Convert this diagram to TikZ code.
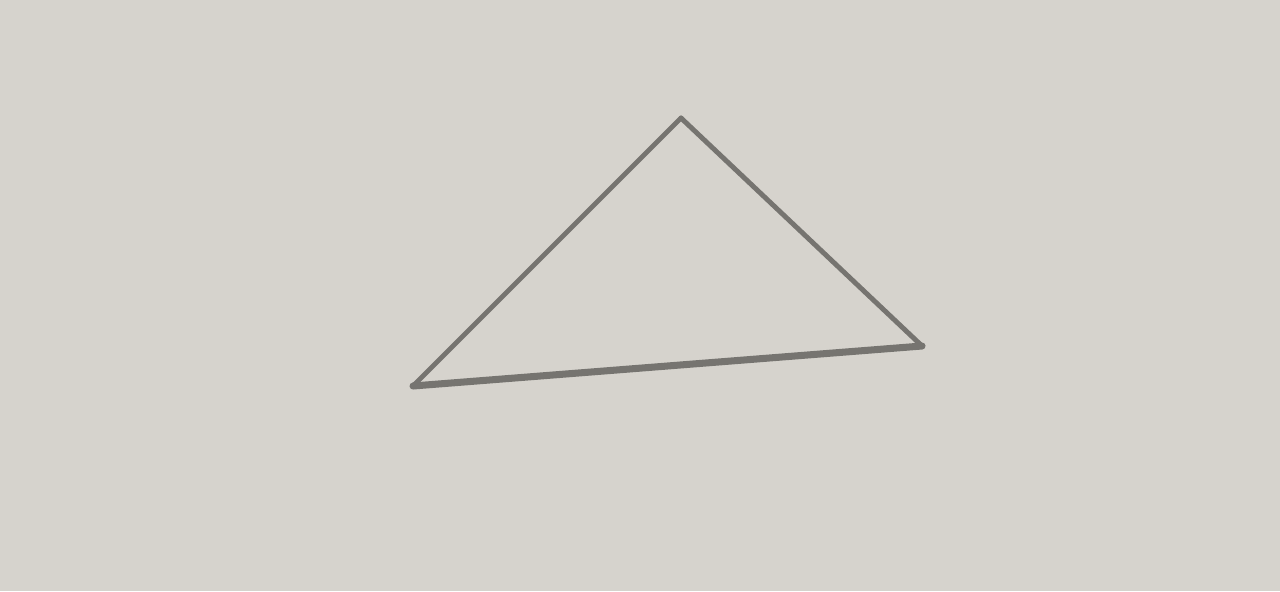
\documentclass[tikz,border=0pt]{standalone}
\definecolor{paper}{RGB}{214,211,205}
\definecolor{pencil}{RGB}{118,116,112}
\begin{document}
\begin{tikzpicture}[x=0.01cm, y=-0.01cm, line join=round, line cap=round]
	\fill[paper] (0,0) rectangle (1280,591);
	\useasboundingbox (0,0) rectangle (1280,591);
	\coordinate (apex) at (681,118);
	\coordinate (left) at (413,386);
	\coordinate (right) at (922,346);
	\draw[pencil, line width=1.4pt] (apex) -- (right);
	\draw[pencil, line width=1.4pt] (apex) -- (left);
	\draw[pencil, line width=2pt] (left) -- (right);
\end{tikzpicture}
\end{document}
